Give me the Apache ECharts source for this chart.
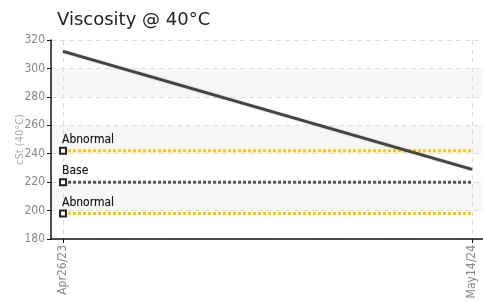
<!DOCTYPE html>
<html>
<head>
<meta charset="utf-8">
<script src="https://cdn.jsdelivr.net/npm/echarts@6/dist/echarts.min.js"></script>
<style>
  html, body { margin: 0; padding: 0; background: #fff; }
  #viscChart { width: 483px; height: 303px; }
</style>
</head>
<body>
<div id="viscChart"></div>
<script>
// sample dates and readings
const sampleDates = ['2023-04-26', '2024-05-14'];
const sampleLabels = ['Apr26/23', 'May14/24'];
const viscosity = [312, 229];

// limit lines
const upperAbnormal = 242;
const baseValue = 220;
const lowerAbnormal = 198;

const yTicks = [180, 200, 220, 240, 260, 280, 300, 320];

const DAY = 86400000;
const NARROW = '"Liberation Sans Narrow", "DejaVu Sans Condensed", sans-serif';

// x positions as days since the first sample
const t0 = Date.parse(sampleDates[0]);
const days = sampleDates.map(d => Math.round((Date.parse(d) - t0) / DAY));

document.addEventListener('DOMContentLoaded', () => {
  const chart = echarts.init(document.getElementById('viscChart'), null, { renderer: 'canvas' });
  chart.setOption(buildViscosityOptions());
});

function limitSeries(name, value, color) {
  return {
    name: name,
    type: 'line',
    data: [
      {
        value: [days[0], value],
        symbol: 'emptyRect',
        symbolSize: 6,
        label: {
          show: true,
          formatter: name,
          position: [3, -13],
          align: 'left',
          color: '#111',
          fontFamily: NARROW,
          fontSize: 12,
          textBorderColor: 'rgba(0,0,0,0.2)',
          textBorderWidth: 0.7
        }
      },
      { value: [days[days.length - 1], value], symbol: 'none' }
    ],
    showAllSymbol: true,
    itemStyle: { color: '#222', borderColor: '#222', borderWidth: 1.2 },
    lineStyle: { color: color, width: 3, type: [3, 2] },
    z: 3,
    silent: true
  };
}

function buildViscosityOptions() {
  return {
    backgroundColor: '#fff',
    animation: false,
    title: {
      text: 'Viscosity @ 40°C',
      left: 52,
      top: 6,
      textStyle: { fontFamily: 'DejaVu Sans', fontSize: 18, fontWeight: 'normal', color: '#222' }
    },
    grid: { left: 51, right: 0, top: 40, bottom: 64, containLabel: false, outerBoundsMode: 'none' },
    xAxis: {
      type: 'value',
      min: days[0] - 11.3,
      max: days[days.length - 1] + 10.3,
      axisLine: { onZero: false, lineStyle: { color: '#111', width: 1.5 } },
      axisTick: { customValues: days, length: 4, lineStyle: { color: '#111' } },
      axisLabel: {
        customValues: days,
        rotate: 90,
        color: '#888',
        fontFamily: NARROW,
        fontSize: 12,
        margin: 6,
        formatter: v => sampleLabels[days.indexOf(v)] || ''
      },
      splitLine: { show: true, lineStyle: { color: '#ddd', type: [5, 4] } }
    },
    yAxis: {
      type: 'value',
      min: yTicks[0],
      max: yTicks[yTicks.length - 1],
      interval: 20,
      name: 'cSt (40°C)',
      nameLocation: 'middle',
      nameGap: 25,
      nameMoveOverlap: false,
      nameTextStyle: { color: '#aaa', fontFamily: NARROW, fontSize: 11 },
      axisLine: { show: true, onZero: false, lineStyle: { color: '#111', width: 1.5 } },
      axisTick: { show: true, length: 4, lineStyle: { color: '#111' } },
      axisLabel: { color: '#888', fontFamily: NARROW, fontSize: 12, margin: 6 },
      splitLine: { lineStyle: { color: '#ddd', type: [5, 4] } },
      splitArea: { show: true, areaStyle: { color: ['#ffffff', '#f7f7f7'] } }
    },
    series: [
      limitSeries('Abnormal', upperAbnormal, '#f5c800'),
      limitSeries('Base', baseValue, '#555'),
      limitSeries('Abnormal', lowerAbnormal, '#f5c800'),
      {
        name: 'Viscosity',
        type: 'line',
        data: days.map((d, i) => [d, viscosity[i]]),
        showSymbol: false,
        lineStyle: { color: '#444', width: 3, shadowColor: 'rgba(0,0,0,0.25)', shadowBlur: 2 },
        z: 4
      }
    ]
  };
}
</script>
</body>
</html>
